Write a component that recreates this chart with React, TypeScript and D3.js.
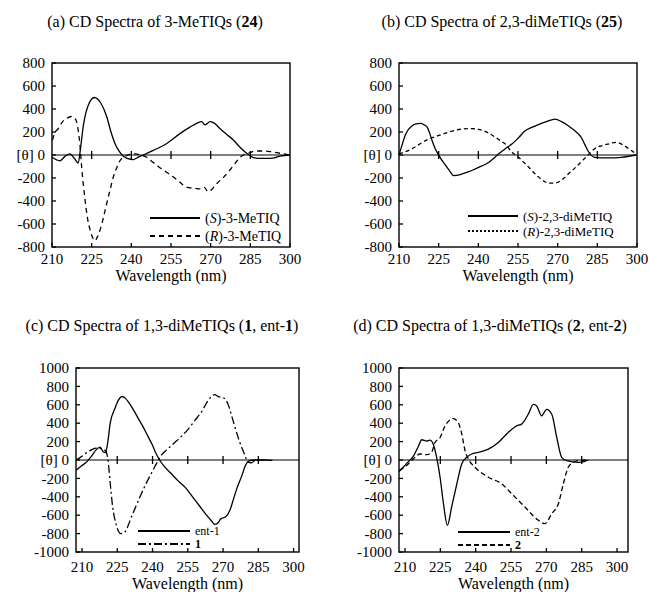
import React from 'react';
import * as d3 from 'd3';

// axis ticks
const wavelengthTicks = [210, 225, 240, 255, 270, 285, 300];
const thetaTicks800 = [800, 600, 400, 200, 0, -200, -400, -600, -800];
const thetaTicks1000 = [1000, 800, 600, 400, 200, 0, -200, -400, -600, -800, -1000];

// (a) 3-MeTIQs (24) - [wavelength nm, theta]
const s3MeTIQ: [number, number][] = [
  [210, -20], [213, -50], [215, -10], [216.8, 10], [218.5, -30], [219.9, -70], [220.8, 60], [221.8, 246],
  [223.5, 420], [226, 500], [228.5, 450], [230.7, 333], [232.3, 200], [233.8, 101], [235.5, 30], [237, -10],
  [238.5, -30], [240.7, -40], [242.5, -20], [244.5, 0], [248.3, 40], [253.4, 100], [258.4, 186], [262, 240],
  [264.7, 275], [266.6, 290], [267.9, 262], [269.8, 290], [271.5, 275], [273.5, 230], [276, 180], [278.6, 130],
  [281, 70], [283.6, 15], [286, -20], [289, -30], [291.2, -30], [294, -25], [296.2, -10], [300, 0]
];
const r3MeTIQ: [number, number][] = [
  [210.2, 130], [211, 190], [212.4, 230], [214, 290], [215.5, 317], [217.2, 335], [218.5, 320], [219.3, 290],
  [220, 200], [220.6, 80], [221.2, -100], [222.5, -390], [223.5, -560], [224.4, -650], [225.4, -720], [226.3, -745],
  [227.2, -710], [228.2, -650], [229.5, -540], [230.7, -420], [232, -300], [233.2, -190], [234.5, -110], [235.7, -50],
  [238.2, -5], [241.4, 10], [243.5, 0], [245.8, -20], [248, -60], [250.8, -110], [255.8, -190], [258.5, -240],
  [260.9, -280], [264, -290], [266, -295], [267.5, -280], [269.1, -320], [270.8, -290], [272.3, -250], [275, -190],
  [277.3, -130], [279.3, -70], [281.1, -20], [284.9, 20], [287, 35], [289.9, 35], [292.5, 30], [295, 20], [300, 0]
];

// (b) 2,3-diMeTIQs (25)
const s23diMeTIQ: [number, number][] = [
  [210, 0], [211.2, 90], [212.5, 180], [215, 255], [216.5, 270], [218.2, 275], [219.5, 262], [220.7, 240],
  [221.6, 190], [222.6, 120], [223.8, 50], [225.1, -5], [227.6, -90], [229.2, -140], [230.7, -180], [233.9, -165],
  [236.4, -145], [238.9, -120], [241.4, -95], [243.9, -65], [245.8, -30], [247.7, 10], [250.2, 55], [252.7, 95],
  [255.2, 150], [257.7, 210], [260.2, 240], [262.7, 265], [265.8, 290], [269, 312], [271.5, 290], [274, 255],
  [276.5, 210], [279, 150], [280.3, 90], [281.5, 35], [284, -20], [289, -25], [294.1, -20], [299.7, 0]
];
const r23diMeTIQ: [number, number][] = [
  [210, 10], [212.5, 30], [215, 55], [217.5, 90], [220, 125], [222.5, 150], [225.1, 170], [228.2, 195],
  [231.3, 215], [233.8, 225], [236.3, 230], [238.9, 228], [241.4, 215], [243.9, 190], [246.4, 155], [248.3, 125],
  [250.2, 95], [252.7, 25], [255.2, -20], [259, -105], [262.7, -190], [264.6, -225], [266.5, -245], [268.4, -245],
  [270.3, -235], [272.2, -205], [274, -165], [276, -125], [278, -80], [281.5, 0], [284, 55], [286.5, 80],
  [289, 95], [292.1, 110], [295.3, 80], [297.5, 45], [299.7, 10]
];

// (c) 1,3-diMeTIQs (1, ent-1)
const ent1: [number, number][] = [
  [207.5, -110], [210, -60], [212, -20], [214, 40], [216, 110], [217.7, 140], [219, 90], [220, 80],
  [221, 200], [222, 400], [224, 560], [225.5, 650], [227, 690], [228.5, 670], [230, 620], [232, 540],
  [234, 450], [236, 360], [238, 260], [240, 160], [241.5, 70], [243, 0], [245, -70], [248, -150],
  [251, -230], [254, -300], [257, -400], [260, -500], [263, -600], [265, -660], [266.5, -700], [268, -680],
  [269, -640], [271, -620], [273, -540], [274.5, -420], [276, -300], [278, -170], [279.5, -60], [281, -10],
  [283, 0], [288, 0], [291, -5]
];
const cmpd1: [number, number][] = [
  [207.5, 0], [210, 40], [212, 80], [214, 110], [216, 130], [218, 125], [220, 100], [221, 10],
  [222, -250], [223, -500], [224.5, -700], [226.5, -800], [228, -790], [229.5, -720], [231, -620], [233, -500],
  [235, -380], [237, -270], [239, -170], [241, -70], [242.5, 0], [244, 60], [246, 110], [249, 180],
  [252, 250], [255, 330], [258, 430], [261, 530], [263, 620], [265, 690], [266.5, 710], [268, 690],
  [269.5, 680], [271, 660], [272.5, 580], [274, 450], [275.5, 320], [277, 200], [279, 70], [280.5, -20],
  [282, -30], [284, 0], [287, 0]
];

// (d) 1,3-diMeTIQs (2, ent-2)
const ent2: [number, number][] = [
  [207.5, -125], [209.5, -70], [211.4, -20], [213.5, 40], [215.7, 150], [217.1, 220], [219.2, 205], [220.6, 215],
  [222, 170], [223.4, 30], [224.9, -190], [226.3, -470], [228, -710], [229.8, -510], [232, -260], [234.1, -40],
  [236.2, 30], [238.3, 65], [241.1, 83], [245.4, 119], [249.6, 191], [253.8, 300], [257.4, 371], [259.5, 390],
  [262.3, 497], [264.5, 605], [265.9, 587], [268, 480], [270.1, 551], [272.3, 497], [274.4, 245], [276.5, 29],
  [278.6, -7], [283.6, -25], [286.4, -14], [287.8, 0]
];
const cmpd2: [number, number][] = [
  [207.5, -115], [211.4, -43], [213.5, 10], [216.4, 65], [219.2, 58], [221.3, 83], [222.7, 190], [224.9, 245],
  [227, 370], [230.5, 450], [232.6, 407], [234.1, 281], [235.5, 100], [236.9, 11], [239.7, -79], [245.4, -187],
  [251, -259], [255.3, -367], [260.9, -511], [266.6, -655], [269.4, -691], [272.3, -583], [275.1, -475], [277.2, -259],
  [279.3, -79], [281.5, -25], [283.6, -7], [287, 0]
];

const serif = '"Liberation Serif", "DejaVu Serif", serif';

type Pt = [number, number];
type SeriesDef = { data: Pt[]; dash?: string };
type LegendRow = { dash?: string; label: React.ReactNode };

const panels = [
  {
    title: <>(a) CD Spectra of 3-MeTIQs (<tspan fontWeight="bold">24</tspan>)</>,
    titleX: 155, titleY: 27,
    left: 52, right: 290, top: 63, bottom: 247,
    xDomain: [210, 300], yDomain: [-800, 800], yTicks: thetaTicks800,
    tickGap: 17, labelY: 281,
    series: [{ data: s3MeTIQ }, { data: r3MeTIQ, dash: '5,4' }] as SeriesDef[],
    legend: { x: 150, len: 50, y: 218, step: 18, size: 14,
      rows: [
        { label: <>(<tspan fontStyle="italic">S</tspan>)-3-MeTIQ</> },
        { dash: '5,4', label: <>(<tspan fontStyle="italic">R</tspan>)-3-MeTIQ</> }
      ] as LegendRow[] }
  },
  {
    title: <>(b) CD Spectra of 2,3-diMeTIQs (<tspan fontWeight="bold">25</tspan>)</>,
    titleX: 502, titleY: 27,
    left: 399, right: 637, top: 63, bottom: 247,
    xDomain: [210, 300], yDomain: [-800, 800], yTicks: thetaTicks800,
    tickGap: 17, labelY: 281,
    series: [{ data: s23diMeTIQ }, { data: r23diMeTIQ, dash: '4,3' }] as SeriesDef[],
    legend: { x: 468, len: 50, y: 216, step: 15, size: 13,
      rows: [
        { label: <>(<tspan fontStyle="italic">S</tspan>)-2,3-diMeTIQ</> },
        { dash: '2,2', label: <>(<tspan fontStyle="italic">R</tspan>)-2,3-diMeTIQ</> }
      ] as LegendRow[] }
  },
  {
    title: <>(c) CD Spectra of 1,3-diMeTIQs (<tspan fontWeight="bold">1</tspan>, ent-<tspan fontWeight="bold">1</tspan>)</>,
    titleX: 162, titleY: 331,
    left: 76, right: 299, top: 368, bottom: 552,
    xDomain: [207.45, 302.3], yDomain: [-1000, 1000], yTicks: thetaTicks1000,
    tickGap: 20, labelY: 589,
    series: [{ data: ent1 }, { data: cmpd1, dash: '8,3,2,3' }] as SeriesDef[],
    legend: { x: 138, len: 52, y: 531, step: 13, size: 12,
      rows: [
        { label: <>ent-1</> },
        { dash: '8,3,2,3', label: <tspan fontWeight="bold">1</tspan> }
      ] as LegendRow[] }
  },
  {
    title: <>(d) CD Spectra of 1,3-diMeTIQs (<tspan fontWeight="bold">2</tspan>, ent-<tspan fontWeight="bold">2</tspan>)</>,
    titleX: 490, titleY: 331,
    left: 399, right: 628, top: 368, bottom: 552,
    xDomain: [207.45, 304.65], yDomain: [-1000, 1000], yTicks: thetaTicks1000,
    tickGap: 20, labelY: 589,
    series: [{ data: ent2 }, { data: cmpd2, dash: '5,3' }] as SeriesDef[],
    legend: { x: 458, len: 52, y: 532, step: 13, size: 12,
      rows: [
        { label: <>ent-2</> },
        { dash: '5,3', label: <tspan fontWeight="bold">2</tspan> }
      ] as LegendRow[] }
  }
];

function Panel({ p }: { p: typeof panels[number] }) {
  const x = d3.scaleLinear().domain(p.xDomain).range([p.left, p.right]);
  const y = d3.scaleLinear().domain(p.yDomain).range([p.bottom, p.top]);
  const line = d3.line<Pt>().x(d => x(d[0])).y(d => y(d[1])).curve(d3.curveMonotoneX);
  const innerTicks = wavelengthTicks.slice(1, -1);

  return (
    <g fontFamily={serif} fill="#000">
      <text x={p.titleX} y={p.titleY} fontSize={16} textAnchor="middle">{p.title}</text>

      {/* curves */}
      <g fill="none" stroke="#000" strokeWidth={1.3}>
        {p.series.map((s, i) => (
          <path key={i} d={line(s.data) || ''} strokeDasharray={s.dash} />
        ))}
      </g>

      {/* zero line with ticks */}
      <line x1={p.left} x2={p.right} y1={y(0)} y2={y(0)} stroke="#000" strokeWidth={1.2} />
      {innerTicks.map(t => (
        <line key={'z' + t} x1={x(t)} x2={x(t)} y1={y(0) - 4} y2={y(0) + 4} stroke="#000" strokeWidth={1.3} />
      ))}

      {/* frame */}
      <rect x={p.left} y={p.top} width={p.right - p.left} height={p.bottom - p.top}
        fill="none" stroke="#000" strokeWidth={1.4} />

      {/* y axis */}
      {p.yTicks.map(t => (
        <g key={'y' + t}>
          <line x1={p.left} x2={p.left + 4} y1={y(t)} y2={y(t)} stroke="#000" strokeWidth={1.3} />
          <text x={p.left - 7} y={y(t)} dy="0.35em" fontSize={15} textAnchor="end">
            {t === 0 ? '[θ] 0' : String(t)}
          </text>
        </g>
      ))}

      {/* x axis */}
      {wavelengthTicks.map(t => (
        <g key={'x' + t}>
          <line x1={x(t)} x2={x(t)} y1={p.bottom} y2={p.bottom - 4} stroke="#000" strokeWidth={1.3} />
          <text x={x(t)} y={p.bottom + p.tickGap} fontSize={15} textAnchor="middle">{t}</text>
        </g>
      ))}
      <text x={(p.left + p.right) / 2} y={p.labelY} fontSize={16} textAnchor="middle">Wavelength (nm)</text>

      {/* legend */}
      {p.legend.rows.map((r, i) => {
        const ly = p.legend.y + i * p.legend.step;
        return (
          <g key={'l' + i}>
            <line x1={p.legend.x} x2={p.legend.x + p.legend.len} y1={ly} y2={ly}
              stroke="#000" strokeWidth={1.8} strokeDasharray={r.dash} />
            <text x={p.legend.x + p.legend.len + 5} y={ly} dy="0.35em" fontSize={p.legend.size}>{r.label}</text>
          </g>
        );
      })}
    </g>
  );
}

export default function App() {
  return (
    <>
      <style>{'body{margin:0;background:#fff}'}</style>
      <svg width={650} height={592} style={{ display: 'block', background: '#fff' }}>
        {panels.map((p, i) => <Panel key={i} p={p} />)}
      </svg>
    </>
  );
}
